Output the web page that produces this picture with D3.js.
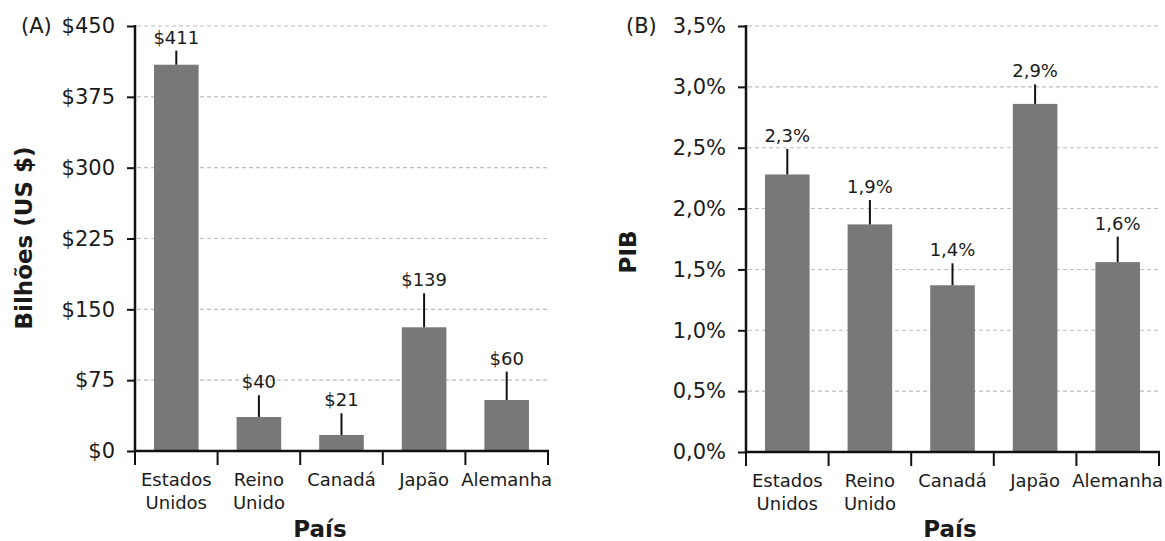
<!DOCTYPE html>
<html>
<head>
<meta charset="utf-8">
<script src="https://cdn.jsdelivr.net/npm/d3@7"></script>
<style>
  html, body { margin: 0; padding: 0; background: #fff; }
  svg { display: block; }
  text { font-family: "DejaVu Sans", Verdana, sans-serif; fill: #1a1a1a; }
</style>
</head>
<body>
<svg id="chart" width="1165" height="541"></svg>
<script>
// ---- Data ----
const categories = ["Estados Unidos", "Reino Unido", "Canadá", "Japão", "Alemanha"];
const categoryLines = [["Estados", "Unidos"], ["Reino", "Unido"], ["Canadá"], ["Japão"], ["Alemanha"]];

const spendValues = [409, 36, 17, 131, 54];
const spendErrorTop = [424, 59, 40, 167, 84];
const spendLabels = ["$411", "$40", "$21", "$139", "$60"];
const spendTicks = [0, 75, 150, 225, 300, 375, 450];
const spendTickLabels = ["$0", "$75", "$150", "$225", "$300", "$375", "$450"];

const gdpValues = [2.28, 1.87, 1.37, 2.86, 1.56];
const gdpErrorTop = [2.49, 2.07, 1.55, 3.02, 1.77];
const gdpLabels = ["2,3%", "1,9%", "1,4%", "2,9%", "1,6%"];
const gdpTicks = [0, 0.5, 1.0, 1.5, 2.0, 2.5, 3.0, 3.5];
const gdpTickLabels = ["0,0%", "0,5%", "1,0%", "1,5%", "2,0%", "2,5%", "3,0%", "3,5%"];

const svg = d3.select("#chart");
svg.append("rect").attr("width", 1165).attr("height", 541).attr("fill", "#fff");

function panel(opts) {
  const g = svg.append("g");
  const x = d3.scaleBand().domain(categories)
    .range([opts.x0, opts.x1]).paddingInner(0.46).paddingOuter(0.23);
  const y = d3.scaleLinear().domain([0, opts.max]).range([opts.yBottom, opts.yTop]);

  // gridlines
  g.selectAll("line.grid").data(opts.ticks.filter(t => t > 0)).join("line")
    .attr("x1", opts.x0 + 2).attr("x2", opts.x1 + 2)
    .attr("y1", d => y(d)).attr("y2", d => y(d))
    .attr("stroke", "#bdbdbd").attr("stroke-width", 1.1)
    .attr("stroke-dasharray", "4,3");

  // bars
  g.selectAll("rect.bar").data(opts.values).join("rect")
    .attr("x", (d, i) => x(categories[i]))
    .attr("width", x.bandwidth())
    .attr("y", d => y(d))
    .attr("height", d => y(0) - y(d))
    .attr("fill", "#787878");

  // error bars
  g.selectAll("line.err").data(opts.errTop).join("line")
    .attr("x1", (d, i) => x(categories[i]) + x.bandwidth() / 2)
    .attr("x2", (d, i) => x(categories[i]) + x.bandwidth() / 2)
    .attr("y1", (d, i) => y(opts.values[i]))
    .attr("y2", d => y(d))
    .attr("stroke", "#111").attr("stroke-width", 2);

  // value labels
  g.selectAll("text.val").data(opts.labels).join("text")
    .attr("x", (d, i) => x(categories[i]) + x.bandwidth() / 2)
    .attr("y", (d, i) => y(opts.errTop[i]) - 7)
    .attr("text-anchor", "middle")
    .attr("font-size", 18)
    .text(d => d);

  // y axis
  const yAxis = d3.axisLeft(y).tickValues(opts.ticks)
    .tickFormat((d, i) => opts.tickLabels[i])
    .tickSize(8).tickPadding(12);
  const ya = g.append("g").attr("transform", `translate(${opts.x0},0)`).call(yAxis);
  ya.select(".domain").remove();
  ya.selectAll(".tick line").attr("stroke", "#111").attr("stroke-width", 2);
  ya.selectAll(".tick text").attr("font-size", 21)
    .attr("font-family", "\"DejaVu Sans\", Verdana, sans-serif").attr("fill", "#1a1a1a");
  g.append("line").attr("x1", opts.x0).attr("x2", opts.x0)
    .attr("y1", y(opts.max) - 1).attr("y2", y(0) + 1)
    .attr("stroke", "#111").attr("stroke-width", 2.5);

  // x axis
  g.append("line").attr("x1", opts.x0 - 1).attr("x2", opts.x1 + 1)
    .attr("y1", y(0)).attr("y2", y(0))
    .attr("stroke", "#111").attr("stroke-width", 2.5);
  const step = x.step();
  const bounds = d3.range(categories.length + 1).map(i => opts.x0 + i * step);
  g.selectAll("line.xt").data(bounds).join("line")
    .attr("x1", d => d).attr("x2", d => d)
    .attr("y1", y(0)).attr("y2", y(0) + 14)
    .attr("stroke", "#111").attr("stroke-width", 2);

  // category labels
  const cl = g.selectAll("text.cat").data(categoryLines).join("text")
    .attr("text-anchor", "middle").attr("font-size", 18);
  cl.each(function (lines, i) {
    const cx = x(categories[i]) + x.bandwidth() / 2;
    d3.select(this).selectAll("tspan").data(lines).join("tspan")
      .attr("x", cx)
      .attr("y", (d, j) => y(0) + 35 + j * 23)
      .text(d => d);
  });

  // axis titles
  g.append("text").attr("x", opts.xTitleX).attr("y", 537)
    .attr("text-anchor", "middle").attr("font-size", 23).attr("font-weight", "bold")
    .text("País");
  g.append("text")
    .attr("transform", `translate(${opts.yTitleX},${opts.yTitleY}) rotate(-90)`)
    .attr("text-anchor", "middle").attr("font-size", 23).attr("font-weight", "bold")
    .text(opts.yTitle);

  // panel letter
  g.append("text").attr("x", opts.letterX).attr("y", y(opts.max))
    .attr("dy", "0.35em").attr("font-size", 21).text(opts.letter);
}

panel({
  x0: 135, x1: 548, yTop: 26, yBottom: 451, max: 450,
  values: spendValues, errTop: spendErrorTop, labels: spendLabels,
  ticks: spendTicks, tickLabels: spendTickLabels,
  xTitleX: 320, yTitleX: 32, yTitleY: 238, yTitle: "Bilhões (US $)",
  letter: "(A)", letterX: 21
});

panel({
  x0: 746, x1: 1159, yTop: 26, yBottom: 452, max: 3.5,
  values: gdpValues, errTop: gdpErrorTop, labels: gdpLabels,
  ticks: gdpTicks, tickLabels: gdpTickLabels,
  xTitleX: 950, yTitleX: 636, yTitleY: 252, yTitle: "PIB",
  letter: "(B)", letterX: 626
});
</script>
</body>
</html>
